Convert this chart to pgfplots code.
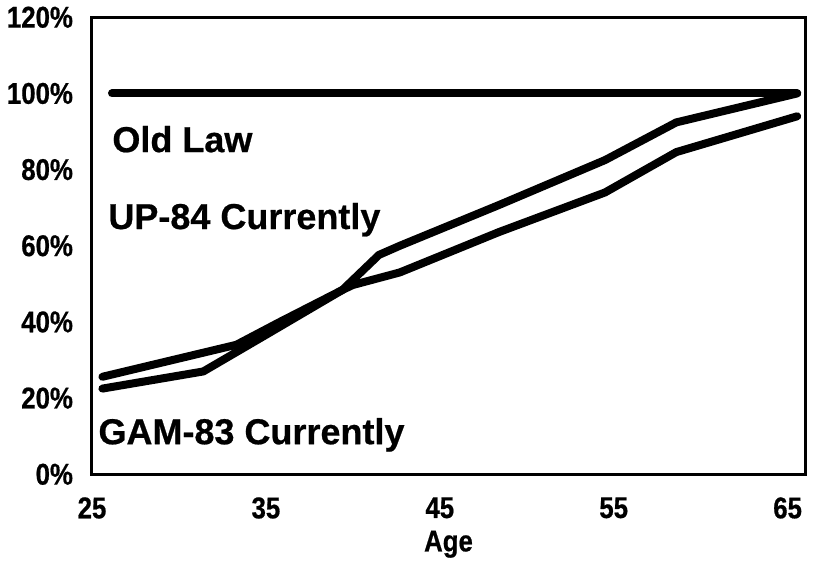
\documentclass[border=0pt]{standalone}
\usepackage{fontspec}
\setmainfont[FakeBold=0.6]{Liberation Sans}
\newfontfamily\narrowfont[FakeStretch=0.86,FakeBold=0.6]{Liberation Sans}
\usepackage{pgfplots}
\pgfplotsset{compat=1.18}
\begin{document}
\begin{tikzpicture}
\begin{axis}[
  scale only axis,
  width=356.5pt, height=228.5pt,
  xmin=25, xmax=66, ymin=0, ymax=120,
  xtick={25,35,45,55,65},
  ytick={0,20,40,60,80,100,120},
  yticklabel={\pgfmathprintnumber{\tick}\%},
  /pgf/number format/assume math mode=true,
  major tick length=0pt,
  axis line style={line width=1.5pt},
  tick label style={font=\narrowfont\bfseries\fontsize{15}{17}\selectfont},
  yticklabel style={xshift=-6pt},
  xticklabel style={yshift=-8pt},
  xlabel={Age},
  xlabel style={font=\narrowfont\bfseries\fontsize{15}{17}\selectfont, at={(axis description cs:0.5,0)}, anchor=center, yshift=-35pt},
  clip=false,
]
\addplot[black, line width=4pt, line cap=round] coordinates {(26.15,100) (65.55,100)};
% UP-84
\addplot[black, line width=4pt, line cap=round, line join=round] coordinates {
 (25.6,22.5) (31.4,27.0) (35.0,36.6) (39.4,48.4) (41.5,57.6) (42.7,60.0)
 (48.4,70.7) (54.5,82.5) (58.6,92.4) (65.55,100)};
% GAM-83
\addplot[black, line width=4pt, line cap=round, line join=round] coordinates {
 (25.6,25.6) (33.3,34.0) (35.8,40.0) (39.4,48.4) (40.0,49.7) (42.7,53.0)
 (48.4,63.6) (54.5,74.0) (58.6,84.6) (65.55,94.0)};
\node[anchor=base west, font=\bfseries\fontsize{18}{20}\selectfont, inner sep=0pt] at (axis cs:26.15,84.6) {Old Law};
\node[anchor=base west, font=\bfseries\fontsize{18}{20}\selectfont, inner sep=0pt] at (axis cs:25.92,64.4) {UP-84 Currently};
\node[anchor=base west, font=\bfseries\fontsize{18}{20}\selectfont, inner sep=0pt] at (axis cs:25.35,7.9) {GAM-83 Currently};
\end{axis}
\path (current axis.south west) ++(-46pt,-46.5pt) (current axis.north east) ++(7pt,6.5pt);
\end{tikzpicture}
\end{document}
